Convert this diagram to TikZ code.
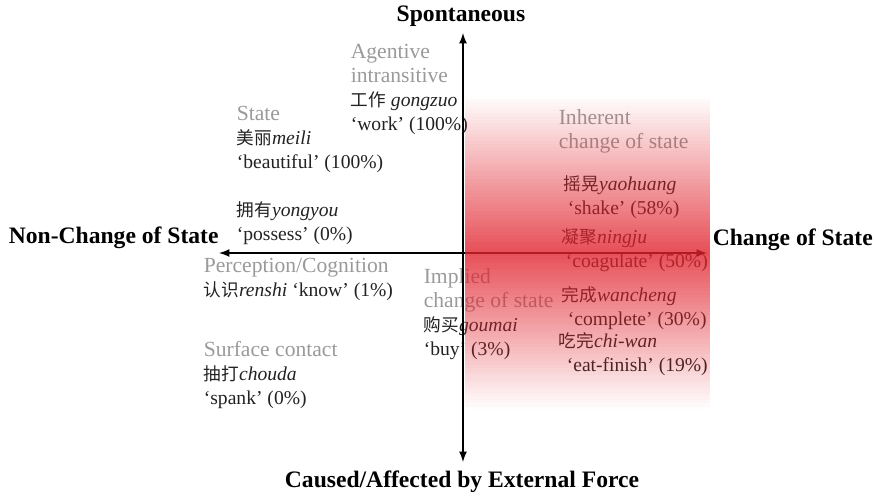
\documentclass[tikz,border=0pt]{standalone}
\usepackage{fontspec}
\setmainfont{Liberation Serif}
\newfontfamily\cjk[Scale=0.9]{Noto Sans CJK SC}
\usetikzlibrary{arrows}
\definecolor{catgray}{HTML}{9A9A9A}
\definecolor{exblack}{HTML}{222222}
\definecolor{bandred}{RGB}{225,35,45}
\newcommand{\zh}[1]{{\cjk #1}}
\newcommand{\catlbl}[1]{{\fontsize{10.8}{12}\selectfont\color{catgray}#1}}

\begin{document}
\begin{tikzpicture}
        [x=0.5pt,y=-0.5pt,thick,
         every node/.style={anchor=base west,inner sep=0pt,align=left,text=exblack,
                            font=\fontsize{9.8}{12}\selectfont},
         axislabel/.style={anchor=base,text=black,font=\fontsize{11.8}{13}\selectfont\bfseries}]
        \useasboundingbox (0,0) rectangle (874,498);

        % verb classes (placed at the baseline of their last line)
        \node (agent) at (350,130) {\catlbl{Agentive}\\\catlbl{intransitive}\\\zh{工作} \textit{gongzuo}\\`work' (100\%)};
        \node (state) at (236,168) {\catlbl{State}\\\zh{美丽}\textit{meili}\\`beautiful' (100\%)};
        \node (possess) at (236,240) {\zh{拥有}\textit{yongyou}\\`possess' (0\%)};
        \node (percep) at (203,296) {\catlbl{Perception/Cognition}\\\zh{认识}\textit{renshi} `know' (1\%)};
        \node (surface) at (203,404) {\catlbl{Surface contact}\\\zh{抽打}\textit{chouda}\\`spank' (0\%)};
        \node (implied) at (423,355) {\catlbl{Implied}\\\catlbl{change of state}\\\zh{购买}\textit{goumai}\\`buy' (3\%)};
        \node (inherent) at (558,148) {\catlbl{Inherent}\\\catlbl{change of state}};
        \node (shake) at (563,214) {\zh{摇晃}\textit{yaohuang}\\\hspace*{2pt}`shake' (58\%)};
        \node (coag) at (561,267) {\zh{凝聚}\textit{ningju}\\\hspace*{2pt}`coagulate' (50\%)};
        \node (compl) at (561,325) {\zh{完成}\textit{wancheng}\\\hspace*{3pt}`complete' (30\%)};
        \node (eat) at (558,371) {\zh{吃完}\textit{chi-wan}\\\hspace*{4pt}`eat-finish' (19\%)};

        % axes
        \coordinate (wtip) at (219,253);
        \coordinate (etip) at (707,253);
        \coordinate (ntip) at (463,33);
        \coordinate (stip) at (463,462);
        \draw[latex-latex] (wtip) -- (etip);

        % red band, strongest along the horizontal axis
        \foreach \i in {0,...,89}{
          \pgfmathsetmacro\op{0.8*(1-abs(\i+0.5-45)/45)}
          \fill[bandred,fill opacity=\op] (465,{95+3.5*\i}) rectangle (710,{98.5+3.5*\i});
        }
        \draw[latex-latex] (stip) -- (ntip);

        \node[axislabel] (spont) at (461,21) {Spontaneous};
        \node[axislabel] (caused) at (462,487) {Caused/Affected by External Force};
        \node[axislabel,anchor=base west] (nonchg) at (8,243) {Non-Change of State};
        \node[axislabel,anchor=base west] (chg) at (712,245) {Change of State};
      \end{tikzpicture}
\end{document}
